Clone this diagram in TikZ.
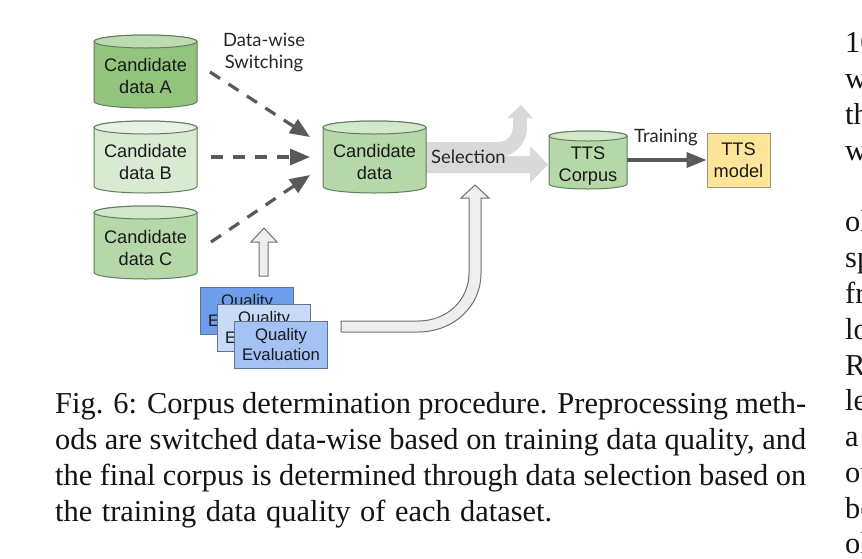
\documentclass[tikz,border=0pt]{standalone}
\usepackage{fontspec}
\setmainfont{Liberation Serif}
\newfontfamily\arialf{Liberation Sans}
\newfontfamily\latof{Lato}
\usetikzlibrary{arrows.meta}
\definecolor{darkarrow}{HTML}{595959}
\definecolor{cylline}{HTML}{5F7F5A}
\definecolor{hollowline}{HTML}{707070}
\definecolor{hollowfill}{HTML}{EEEEEE}
\definecolor{selgray}{HTML}{D9D9D9}
\definecolor{greenA}{HTML}{93C47D}
\definecolor{greenAtop}{HTML}{BEDAB1}
\definecolor{greenB}{HTML}{D9EAD3}
\definecolor{greenBtop}{HTML}{E8F2E4}
\definecolor{greenC}{HTML}{B6D7A8}
\definecolor{greenCtop}{HTML}{D3E7CB}
\definecolor{modelfill}{HTML}{FFE599}
\definecolor{modelline}{HTML}{9A9480}
\definecolor{qline}{HTML}{5F7590}
\definecolor{qA}{HTML}{6D9EEB}
\definecolor{qB}{HTML}{C9DAF8}
\definecolor{qC}{HTML}{A4C2F4}
\tikzset{
  shapetext/.style={font=\arialf\fontsize{18.2}{22.5}\selectfont,align=center,inner sep=0pt,text=black!90},
  cyltext/.style={shapetext,minimum height=20pt},
  smalllabel/.style={font=\latof\fontsize{18.4}{22}\selectfont,inner sep=0pt,align=center,text=black!85},
  dasharrow/.style={draw=darkarrow,line width=3.2pt,dash pattern=on 12pt off 10pt,-{Triangle[length=20pt,width=16pt]}},
  solidarrow/.style={draw=darkarrow,line width=3.6pt,-{Triangle[length=20pt,width=15pt]}},
  hollow/.style={draw=hollowline,fill=hollowfill,line width=1pt,line join=miter},
  qbox/.style={draw=qline,line width=1pt,align=center,inner sep=0pt,text=black!90,font=\arialf\fontsize{16.7}{20}\selectfont,minimum width=93pt,minimum height=47pt,anchor=north west},
  captionline/.style={anchor=base west,inner sep=0pt,font=\fontsize{30.4}{36}\selectfont,text=black!92},
  columnline/.style={anchor=base west,inner sep=0pt,font=\fontsize{30.4}{36}\selectfont,text=black!92},
}
% #1 left, #2 right, #3 top, #4 bottom, #5 ry, #6 body fill, #7 top fill
\newcommand{\cylbody}[7]{%
  \pgfmathsetmacro{\cxm}{(#1+#2)/2}%
  \pgfmathsetmacro{\crx}{(#2-#1)/2}%
  \pgfmathsetmacro{\cyt}{#3+#5}%
  \pgfmathsetmacro{\cyb}{#4-#5}%
  \draw[draw=cylline,line width=1pt,fill=#6] (#1,\cyt) -- (#1,\cyb) arc[start angle=180,end angle=360,x radius=\crx,y radius=-#5] -- (#2,\cyt) arc[start angle=0,end angle=180,x radius=\crx,y radius=-#5] -- cycle;
  \draw[draw=cylline,line width=1pt,fill=#7] (\cxm,\cyt) ellipse[x radius=\crx,y radius=#5];
}
\begin{document}
\begin{tikzpicture}[x=1pt,y=-1pt]
\useasboundingbox (0,0) rectangle (862,558);
\clip (0,0) rectangle (862,558);
\fill[white] (0,0) rectangle (862,558);

% Grey selection arrows
\fill[selgray] (426,142) -- (498,142) .. controls (508,142) and (513,135) .. (513,125) -- (513,118) -- (507,118) -- (521,105) -- (533,118) -- (527,118) -- (527,128) .. controls (527,140) and (519,152) .. (506,156) -- (530,156) -- (530,146) -- (548,164.5) -- (530,183) -- (530,173) -- (426,173) -- cycle;

% Cylinders
\cylbody{94}{197}{35}{108}{6.5}{greenA}{greenAtop}
\cylbody{94}{197}{121}{193}{6.5}{greenB}{greenBtop}
\cylbody{94}{197}{206}{279}{6.5}{greenC}{greenCtop}
\cylbody{323}{426}{121}{193}{6.5}{greenC}{greenCtop}
\cylbody{549}{627}{131}{189}{5}{greenC}{greenCtop}

\node[cyltext,minimum width=103pt] (dataA) at (145.5,76) {Candidate\\data A};
\node[cyltext,minimum width=103pt] (dataB) at (145.5,162) {Candidate\\data B};
\node[cyltext,minimum width=103pt] (dataC) at (145.5,248) {Candidate\\data C};
\node[cyltext,minimum width=103pt] (cand) at (374.5,162) {Candidate\\data};
\node[cyltext,minimum width=78pt] (corpus) at (588,166) {TTS\\Corpus};
\node[shapetext,draw=modelline,fill=modelfill,line width=1pt,minimum width=63pt,minimum height=54pt] (model) at (738.5,160) {TTS\\model};

% Labels
\node[smalllabel] (switchlabel) at (264,52) {Data-wise\\Switching};
\node[smalllabel,anchor=base west] (sellabel) at (431,163) {Selection};
\node[smalllabel,anchor=base west] (trainlabel) at (634,142) {Training};

% Dashed arrows
\coordinate (aout) at (210,72);
\coordinate (bout) at (211,157);
\coordinate (cout) at (211,242);
\coordinate (ain) at (310,137);
\coordinate (bin) at (310,157);
\coordinate (cin) at (310,175);
\draw[dasharrow] (aout) -- (ain);
\draw[dasharrow] (bout) -- (bin);
\draw[dasharrow] (cout) -- (cin);

% Training arrow
\draw[solidarrow] (corpus.east |- model.west) -- (model.west);

% Quality boxes
\node[qbox,fill=qA] (qone) at (200,287) {Quality\\Evaluation};
\node[qbox,fill=qB] (qtwo) at (217,304) {Quality\\Evaluation};
\node[qbox,fill=qC] (qthree) at (234,320.5) {Quality\\Evaluation};

% Hollow arrows
\draw[hollow] (259,276) -- (259,242) -- (251,242) -- (264,228) -- (277,242) -- (268,242) -- (268,276) -- cycle;
\draw[hollow] (341,321) -- (418,321) .. controls (447,321) and (469,300) .. (469,273) -- (469,198) -- (461,198) -- (475,185) -- (489,198) -- (481,198) -- (481,273) .. controls (481,307) and (453,332) .. (418,332) -- (341,332) -- cycle;

% Caption
\node[captionline] (cap1) at (55,413) {\makebox[751pt][s]{Fig. 6: Corpus determination procedure. Preprocessing meth-}};
\node[captionline] (cap2) at (55,449) {\makebox[751pt][s]{ods are switched data-wise based on training data quality, and}};
\node[captionline] (cap3) at (55,485) {\makebox[751pt][s]{the final corpus is determined through data selection based on}};
\node[captionline] (cap4) at (55,521.5) {\makebox[497pt][s]{the training data quality of each dataset.}};

% Neighbouring column, cut by the page edge
\node[columnline] (col1) at (845,52) {10};
\node[columnline] (col2) at (845,88) {wi};
\node[columnline] (col3) at (845,124) {th};
\node[columnline] (col4) at (845,160) {wi};
\node[columnline] (col5) at (845,231.5) {ol};
\node[columnline] (col6) at (845,267.5) {sp};
\node[columnline] (col7) at (845,303.5) {fr};
\node[columnline] (col8) at (845,339) {lo};
\node[columnline] (col9) at (845,375) {R};
\node[columnline] (col10) at (845,410.5) {le};
\node[columnline] (col11) at (845,446.5) {a};
\node[columnline] (col12) at (845,482) {ou};
\node[columnline] (col13) at (845,518) {be};
\node[columnline] (col14) at (845,553) {ol};
\end{tikzpicture}
\end{document}
